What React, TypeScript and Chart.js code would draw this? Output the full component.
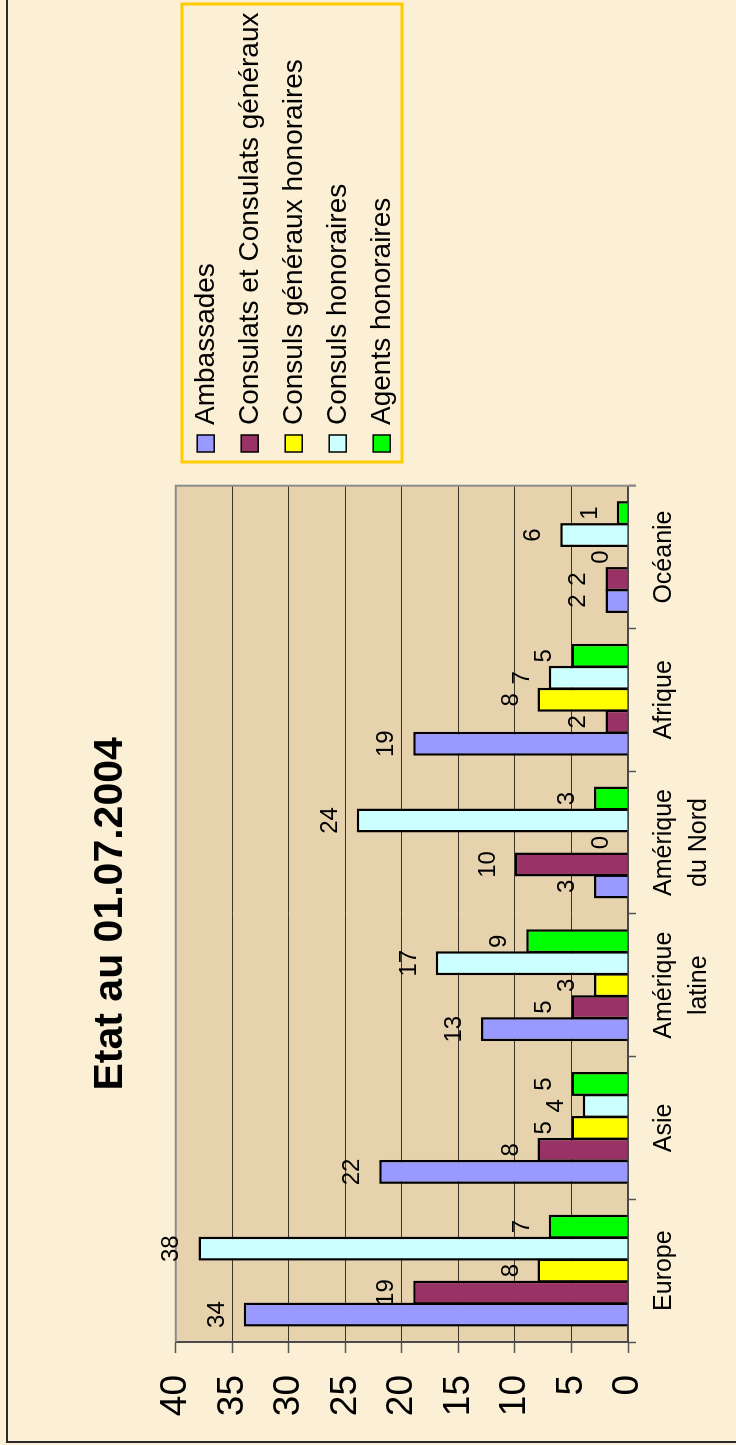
import React, { useEffect, useRef } from 'react';
import { Chart, registerables } from 'chart.js';

Chart.register(...registerables);

const TITLE = 'Etat au 01.07.2004';
const CATEGORIES: (string | string[])[] = [
  'Europe',
  'Asie',
  ['Amérique', 'latine'],
  ['Amérique', 'du Nord'],
  'Afrique',
  'Océanie',
];
const SERIES_NAMES = [
  'Ambassades',
  'Consulats et Consulats généraux',
  'Consuls généraux honoraires',
  'Consuls honoraires',
  'Agents honoraires',
];
const AMBASSADES = [34, 22, 13, 3, 19, 2];
const CONSULATS = [19, 8, 5, 10, 2, 2];
const CONSULS_GEN_HON = [8, 5, 3, 0, 8, 0];
const CONSULS_HON = [38, 4, 17, 24, 7, 6];
const AGENTS_HON = [7, 5, 9, 3, 5, 1];
const SERIES_COLORS = ['#9999FF', '#993366', '#FFFF00', '#CCFFFF', '#00FF00'];
const Y_MIN = 0;
const Y_MAX = 40;
const Y_STEP = 5;

const W = 1445;
const H = 736;
const FONT = '"Liberation Sans", Arial, sans-serif';
const PAGE_BG = '#FBEFD6';
const PLOT_BG = '#E6D3AE';

const backgroundPlugin = {
  id: 'bgPlugin',
  beforeDraw(chart: any) {
    const { ctx, chartArea } = chart;
    ctx.save();
    ctx.fillStyle = PAGE_BG;
    ctx.fillRect(0, 0, W, H);
    ctx.strokeStyle = '#2b2b2b';
    ctx.lineWidth = 2;
    ctx.strokeRect(3, 7, W + 20, H + 20);
    ctx.fillStyle = PLOT_BG;
    ctx.fillRect(chartArea.left, chartArea.top, chartArea.right - chartArea.left, chartArea.bottom - chartArea.top);
    ctx.restore();
  },
  beforeDatasetsDraw(chart: any) {
    const { ctx, chartArea } = chart;
    ctx.save();
    ctx.strokeStyle = '#8c8c8c';
    ctx.lineWidth = 2;
    ctx.beginPath();
    ctx.moveTo(chartArea.left, chartArea.top);
    ctx.lineTo(chartArea.right, chartArea.top);
    ctx.lineTo(chartArea.right, chartArea.bottom + 8);
    ctx.stroke();
    ctx.restore();
  },
};

const dataLabelPlugin = {
  id: 'dataLabels',
  afterDatasetsDraw(chart: any) {
    const { ctx } = chart;
    ctx.save();
    ctx.font = `24px ${FONT}`;
    ctx.fillStyle = '#000';
    ctx.textAlign = 'center';
    ctx.textBaseline = 'alphabetic';
    chart.data.datasets.forEach((ds: any, i: number) => {
      const meta = chart.getDatasetMeta(i);
      meta.data.forEach((bar: any, j: number) => {
        ctx.fillText(String(ds.data[j]), bar.x, bar.y - 20);
      });
    });
    ctx.restore();
  },
};

const legendPlugin = {
  id: 'customLegend',
  afterDraw(chart: any) {
    const { ctx } = chart;
    const boxLeft = 983;
    const boxTop = 182;
    const boxRight = 1441;
    const boxBottom = 402;
    ctx.save();
    ctx.strokeStyle = '#FFCC00';
    ctx.lineWidth = 3;
    ctx.strokeRect(boxLeft, boxTop, boxRight - boxLeft, boxBottom - boxTop);
    ctx.font = `28px ${FONT}`;
    ctx.textAlign = 'left';
    ctx.textBaseline = 'middle';
    chart.data.datasets.forEach((ds: any, i: number) => {
      const cy = 205.7 + i * 44;
      ctx.fillStyle = ds.backgroundColor;
      ctx.fillRect(993, cy - 8.5, 17, 17);
      ctx.strokeStyle = '#000';
      ctx.lineWidth = 1.5;
      ctx.strokeRect(993, cy - 8.5, 17, 17);
      ctx.fillStyle = '#000';
      ctx.fillText(ds.label, 1020, cy + 1);
    });
    ctx.restore();
  },
};

export default function App() {
  const canvasRef = useRef<HTMLCanvasElement | null>(null);

  useEffect(() => {
    if (!canvasRef.current) return;
    const seriesData = [AMBASSADES, CONSULATS, CONSULS_GEN_HON, CONSULS_HON, AGENTS_HON];
    const chart = new Chart(canvasRef.current, {
      type: 'bar',
      data: {
        labels: CATEGORIES,
        datasets: SERIES_NAMES.map((name, i) => ({
          label: name,
          data: seriesData[i],
          backgroundColor: SERIES_COLORS[i],
          borderColor: '#000000',
          borderWidth: 2.5,
          categoryPercentage: 0.77,
          barPercentage: 24 / 22,
        })),
      },
      options: {
        responsive: false,
        animation: false,
        devicePixelRatio: 1,
        events: [],
        layout: { padding: { left: 0, right: 485.7, top: 0, bottom: 0 } },
        plugins: {
          legend: { display: false },
          tooltip: { enabled: false },
          title: {
            display: true,
            text: TITLE,
            fullSize: false,
            color: '#000',
            font: { family: FONT, size: 41, weight: 'bold', lineHeight: 1.2 },
            padding: { top: 86, bottom: 40.6 },
          },
        },
        scales: {
          x: {
            offset: true,
            grid: {
              offset: true,
              drawOnChartArea: false,
              drawTicks: true,
              tickLength: 8,
              tickColor: '#555',
              tickWidth: 1.5,
            },
            border: { display: true, color: '#4a4a4a', width: 2 },
            ticks: {
              color: '#000',
              padding: 10.5,
              maxRotation: 0,
              minRotation: 0,
              autoSkip: false,
              font: { family: FONT, size: 25, lineHeight: 1.4 },
            },
            afterFit(scale: any) {
              scale.height = 108;
            },
          },
          y: {
            min: Y_MIN,
            max: Y_MAX,
            grid: {
              color: '#3a3328',
              lineWidth: 1,
              drawTicks: true,
              tickLength: 11,
              tickColor: '#555',
              tickWidth: 1.5,
            },
            border: { display: true, color: '#4a4a4a', width: 2 },
            ticks: {
              stepSize: Y_STEP,
              color: '#000',
              padding: 22,
              font: { family: FONT, size: 37 },
            },
            afterFit(scale: any) {
              scale.width = 103;
            },
          },
        },
      },
      plugins: [backgroundPlugin, dataLabelPlugin, legendPlugin],
    } as any);
    return () => chart.destroy();
  }, []);

  return (
    <div
      style={{
        position: 'absolute',
        left: 0,
        top: 0,
        width: 736,
        height: 1445,
        overflow: 'hidden',
        background: PAGE_BG,
      }}
    >
      <div
        style={{
          position: 'absolute',
          left: 0,
          top: 0,
          width: W,
          height: H,
          transformOrigin: '0 0',
          transform: `translateY(${W}px) rotate(-90deg)`,
        }}
      >
        <canvas ref={canvasRef} width={W} height={H} style={{ display: 'block' }} />
      </div>
    </div>
  );
}
